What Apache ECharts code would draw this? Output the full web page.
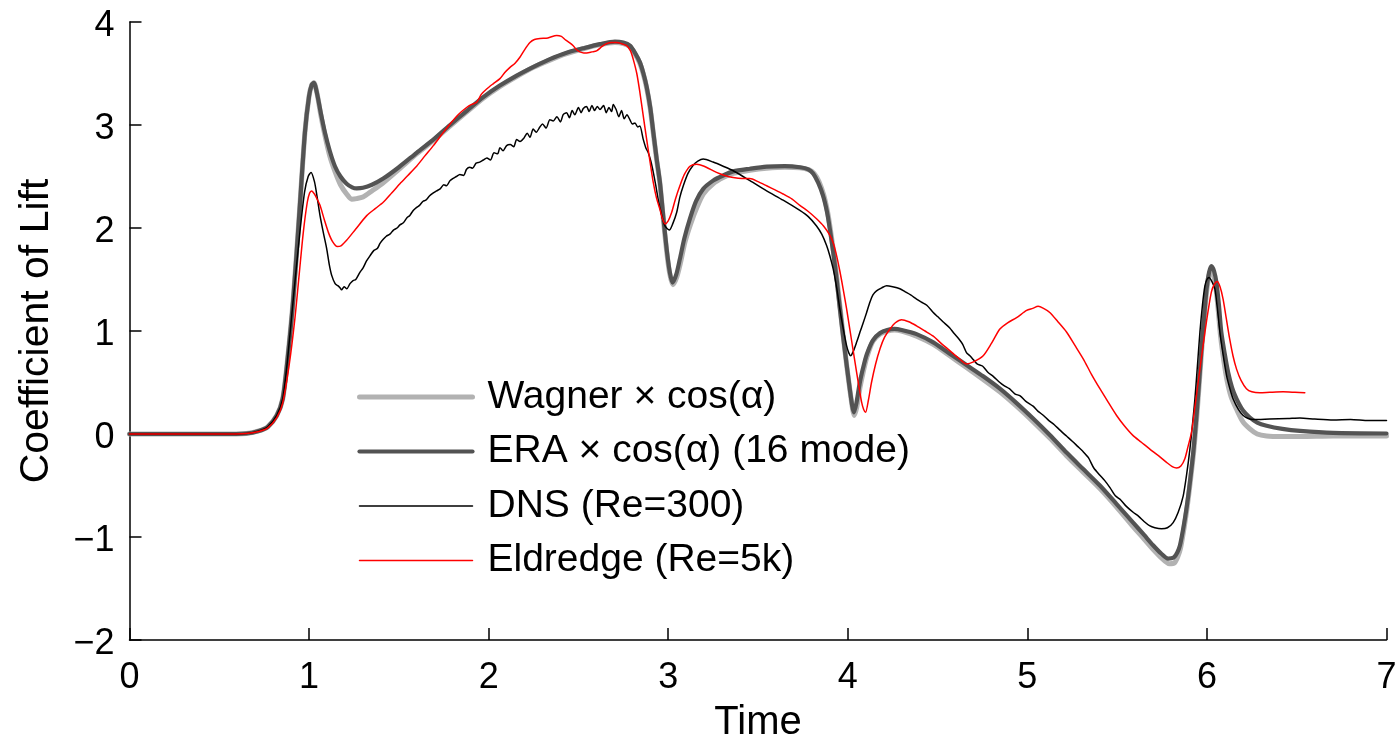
<!DOCTYPE html>
<html>
<head>
<meta charset="utf-8">
<title>Coefficient of Lift</title>
<script src="https://cdn.jsdelivr.net/npm/echarts@6/dist/echarts.min.js"></script>
<style>
  html, body { margin: 0; padding: 0; background: #fff; }
  #chart { width: 1395px; height: 739px; }
</style>
</head>
<body>
<div id="chart"></div>
<script>
// Lift coefficient histories for a pitching/plunging plate manoeuvre.

const seriesNames = [
  'Wagner \u00d7 cos(\u03b1)',
  'ERA \u00d7 cos(\u03b1) (16 mode)',
  'DNS (Re=300)',
  'Eldredge (Re=5k)'
];

const xTicks = [0, 1, 2, 3, 4, 5, 6, 7];
const yTicks = [-2, -1, 0, 1, 2, 3, 4];

// ERA reduced-order model (16 modes)
const eraTime = [0, 0.5, 0.65, 0.72, 0.77, 0.82, 0.853, 0.88, 0.912, 0.945, 0.977, 1.0, 1.015, 1.027, 1.045, 1.065, 1.088, 1.115, 1.144, 1.175, 1.209, 1.24, 1.265, 1.3, 1.35, 1.413, 1.5, 1.599, 1.7, 1.785, 1.88, 1.97, 2.06, 2.156, 2.25, 2.341, 2.43, 2.527, 2.62, 2.703, 2.75, 2.787, 2.815, 2.842, 2.862, 2.88, 2.9, 2.917, 2.935, 2.954, 2.972, 2.991, 3.008, 3.024, 3.045, 3.065, 3.09, 3.121, 3.155, 3.195, 3.25, 3.306, 3.362, 3.455, 3.548, 3.65, 3.733, 3.78, 3.807, 3.835, 3.863, 3.885, 3.9, 3.92, 3.938, 3.956, 3.974, 3.993, 4.011, 4.025, 4.034, 4.048, 4.067, 4.085, 4.105, 4.14, 4.18, 4.22, 4.26, 4.3, 4.383, 4.476, 4.568, 4.661, 4.754, 4.847, 4.94, 5.032, 5.125, 5.218, 5.311, 5.404, 5.497, 5.589, 5.65, 5.7, 5.745, 5.784, 5.815, 5.835, 5.85, 5.87, 5.888, 5.905, 5.925, 5.942, 5.957, 5.97, 5.985, 5.998, 6.012, 6.025, 6.04, 6.053, 6.067, 6.08, 6.1, 6.118, 6.14, 6.165, 6.2, 6.239, 6.28, 6.332, 6.42, 6.518, 6.703, 7.0];
const eraLift = [0, 0, 0.005, 0.03, 0.07, 0.18, 0.34, 0.72, 1.31, 2.12, 2.93, 3.28, 3.39, 3.41, 3.30, 3.12, 2.93, 2.75, 2.60, 2.50, 2.43, 2.395, 2.385, 2.39, 2.42, 2.48, 2.59, 2.73, 2.87, 3.00, 3.14, 3.27, 3.38, 3.48, 3.565, 3.64, 3.70, 3.745, 3.785, 3.81, 3.80, 3.77, 3.70, 3.61, 3.50, 3.37, 3.17, 2.93, 2.68, 2.44, 2.12, 1.80, 1.58, 1.47, 1.55, 1.70, 1.90, 2.09, 2.26, 2.38, 2.46, 2.51, 2.55, 2.575, 2.595, 2.60, 2.59, 2.57, 2.53, 2.44, 2.31, 2.15, 1.99, 1.75, 1.50, 1.22, 0.95, 0.68, 0.44, 0.27, 0.21, 0.30, 0.50, 0.64, 0.77, 0.91, 0.98, 1.01, 1.02, 1.01, 0.97, 0.89, 0.78, 0.67, 0.56, 0.44, 0.30, 0.15, -0.01, -0.18, -0.34, -0.50, -0.68, -0.86, -0.98, -1.08, -1.16, -1.21, -1.20, -1.15, -1.08, -0.90, -0.70, -0.47, -0.16, 0.18, 0.52, 0.83, 1.15, 1.41, 1.57, 1.63, 1.58, 1.47, 1.25, 0.99, 0.77, 0.60, 0.45, 0.34, 0.23, 0.16, 0.11, 0.08, 0.05, 0.03, 0.01, 0.005];

// Wagner function model
const wagnerTime = [0, 0.5, 0.65, 0.72, 0.77, 0.82, 0.853, 0.88, 0.912, 0.945, 0.977, 1.0, 1.015, 1.027, 1.045, 1.065, 1.088, 1.115, 1.144, 1.175, 1.209, 1.237, 1.265, 1.3, 1.35, 1.413, 1.5, 1.599, 1.7, 1.785, 1.88, 1.97, 2.06, 2.156, 2.25, 2.341, 2.43, 2.527, 2.62, 2.703, 2.75, 2.787, 2.815, 2.842, 2.862, 2.88, 2.9, 2.917, 2.935, 2.954, 2.972, 2.991, 3.008, 3.026, 3.047, 3.068, 3.093, 3.125, 3.16, 3.195, 3.25, 3.306, 3.362, 3.455, 3.548, 3.65, 3.733, 3.785, 3.812, 3.84, 3.866, 3.887, 3.902, 3.922, 3.94, 3.958, 3.976, 3.995, 4.013, 4.027, 4.036, 4.05, 4.069, 4.087, 4.107, 4.14, 4.18, 4.22, 4.26, 4.3, 4.383, 4.476, 4.568, 4.661, 4.754, 4.847, 4.94, 5.032, 5.125, 5.218, 5.311, 5.404, 5.497, 5.589, 5.65, 5.7, 5.745, 5.79, 5.82, 5.838, 5.853, 5.872, 5.89, 5.907, 5.927, 5.944, 5.958, 5.971, 5.985, 5.998, 6.012, 6.025, 6.038, 6.05, 6.063, 6.076, 6.095, 6.112, 6.135, 6.165, 6.2, 6.239, 6.28, 6.332, 6.42, 6.518, 6.703, 7.0];
const wagnerLift = [0, 0, 0.005, 0.03, 0.07, 0.18, 0.34, 0.72, 1.31, 2.12, 2.93, 3.28, 3.39, 3.41, 3.30, 3.10, 2.90, 2.70, 2.55, 2.42, 2.33, 2.28, 2.285, 2.30, 2.36, 2.44, 2.57, 2.72, 2.86, 2.99, 3.13, 3.26, 3.37, 3.47, 3.56, 3.63, 3.69, 3.74, 3.78, 3.80, 3.79, 3.76, 3.69, 3.60, 3.49, 3.36, 3.16, 2.92, 2.67, 2.43, 2.10, 1.78, 1.56, 1.45, 1.52, 1.66, 1.86, 2.04, 2.20, 2.33, 2.43, 2.49, 2.53, 2.56, 2.58, 2.59, 2.585, 2.565, 2.53, 2.45, 2.32, 2.16, 2.0, 1.75, 1.50, 1.21, 0.93, 0.65, 0.41, 0.24, 0.18, 0.26, 0.46, 0.61, 0.75, 0.90, 0.97, 1.00, 1.01, 1.0, 0.95, 0.87, 0.76, 0.645, 0.53, 0.41, 0.27, 0.12, -0.04, -0.21, -0.37, -0.53, -0.71, -0.90, -1.02, -1.12, -1.20, -1.26, -1.25, -1.19, -1.11, -0.92, -0.71, -0.47, -0.16, 0.18, 0.51, 0.82, 1.13, 1.38, 1.54, 1.60, 1.54, 1.42, 1.20, 0.95, 0.70, 0.52, 0.36, 0.24, 0.12, 0.05, 0.0, -0.02, -0.025, -0.025, -0.02, -0.02];

// Direct numerical simulation, Re = 300
const dnsTime = [0, 0.5, 0.65, 0.72, 0.77, 0.82, 0.853, 0.88, 0.912, 0.949, 0.975, 0.995, 1.011, 1.03, 1.045, 1.061, 1.08, 1.098, 1.112, 1.126, 1.145, 1.16, 1.172, 1.181, 1.195, 1.21, 1.228, 1.245, 1.26, 1.283, 1.3, 1.32, 1.339, 1.36, 1.38, 1.395, 1.413, 1.43, 1.45, 1.47, 1.49, 1.506, 1.525, 1.545, 1.56, 1.58, 1.599, 1.615, 1.635, 1.65, 1.67, 1.692, 1.71, 1.73, 1.75, 1.765, 1.785, 1.8, 1.82, 1.84, 1.86, 1.877, 1.895, 1.91, 1.93, 1.95, 1.97, 1.99, 2.01, 2.03, 2.05, 2.063, 2.08, 2.1, 2.12, 2.14, 2.156, 2.175, 2.195, 2.215, 2.23, 2.248, 2.265, 2.285, 2.3, 2.32, 2.341, 2.36, 2.38, 2.4, 2.415, 2.434, 2.45, 2.465, 2.48, 2.5, 2.515, 2.527, 2.545, 2.56, 2.575, 2.59, 2.605, 2.62, 2.64, 2.655, 2.67, 2.685, 2.694, 2.71, 2.725, 2.74, 2.755, 2.77, 2.787, 2.8, 2.815, 2.83, 2.842, 2.861, 2.875, 2.889, 2.903, 2.917, 2.93, 2.944, 2.963, 2.982, 3.006, 3.025, 3.047, 3.065, 3.084, 3.11, 3.139, 3.165, 3.195, 3.25, 3.306, 3.362, 3.455, 3.548, 3.64, 3.733, 3.78, 3.826, 3.855, 3.882, 3.9, 3.919, 3.938, 3.956, 3.975, 3.993, 4.005, 4.016, 4.03, 4.049, 4.068, 4.086, 4.105, 4.123, 4.14, 4.16, 4.19, 4.216, 4.25, 4.29, 4.32, 4.35, 4.383, 4.41, 4.44, 4.476, 4.5, 4.53, 4.568, 4.59, 4.62, 4.64, 4.661, 4.68, 4.7, 4.72, 4.75, 4.78, 4.81, 4.847, 4.87, 4.9, 4.93, 4.96, 4.99, 5.032, 5.06, 5.09, 5.12, 5.15, 5.18, 5.218, 5.25, 5.28, 5.31, 5.34, 5.37, 5.404, 5.43, 5.46, 5.49, 5.52, 5.55, 5.589, 5.62, 5.65, 5.68, 5.71, 5.747, 5.78, 5.812, 5.84, 5.868, 5.888, 5.905, 5.92, 5.933, 5.947, 5.961, 5.975, 5.989, 6.0, 6.012, 6.028, 6.044, 6.058, 6.072, 6.09, 6.109, 6.128, 6.146, 6.175, 6.202, 6.23, 6.257, 6.35, 6.45, 6.518, 6.6, 6.703, 6.8, 6.9, 7.0];
const dnsLift = [0, 0, 0.005, 0.03, 0.07, 0.18, 0.34, 0.72, 1.31, 1.96, 2.35, 2.50, 2.54, 2.45, 2.30, 2.12, 1.95, 1.80, 1.65, 1.54, 1.46, 1.44, 1.42, 1.40, 1.43, 1.41, 1.46, 1.49, 1.50, 1.57, 1.61, 1.68, 1.73, 1.78, 1.80, 1.85, 1.89, 1.92, 1.94, 1.98, 2.00, 2.03, 2.05, 2.10, 2.12, 2.17, 2.20, 2.22, 2.26, 2.27, 2.31, 2.34, 2.36, 2.38, 2.42, 2.41, 2.46, 2.48, 2.50, 2.52, 2.51, 2.57, 2.59, 2.58, 2.63, 2.64, 2.66, 2.68, 2.66, 2.73, 2.72, 2.78, 2.75, 2.80, 2.81, 2.79, 2.86, 2.84, 2.87, 2.92, 2.88, 2.96, 2.93, 2.98, 3.01, 2.97, 3.05, 3.04, 3.08, 3.03, 3.10, 3.12, 3.07, 3.14, 3.10, 3.17, 3.12, 3.16, 3.18, 3.13, 3.19, 3.14, 3.18, 3.15, 3.19, 3.12, 3.17, 3.13, 3.20, 3.15, 3.08, 3.14, 3.06, 3.10, 3.05, 3.01, 3.02, 2.98, 2.99, 2.86, 2.78, 2.73, 2.65, 2.54, 2.42, 2.28, 2.13, 2.02, 1.98, 2.04, 2.15, 2.30, 2.41, 2.53, 2.61, 2.65, 2.67, 2.64, 2.60, 2.556, 2.46, 2.36, 2.27, 2.17, 2.11, 2.02, 1.94, 1.83, 1.73, 1.60, 1.42, 1.21, 1.02, 0.86, 0.79, 0.76, 0.80, 0.89, 0.99, 1.08, 1.18, 1.28, 1.35, 1.39, 1.42, 1.44, 1.43, 1.41, 1.38, 1.35, 1.31, 1.28, 1.25, 1.18, 1.14, 1.09, 1.03, 0.98, 0.92, 0.87, 0.79, 0.76, 0.72, 0.68, 0.66, 0.60, 0.56, 0.50, 0.47, 0.44, 0.39, 0.37, 0.32, 0.27, 0.22, 0.18, 0.13, 0.09, 0.04, -0.02, -0.07, -0.12, -0.17, -0.23, -0.33, -0.40, -0.45, -0.52, -0.60, -0.64, -0.70, -0.76, -0.80, -0.85, -0.89, -0.91, -0.92, -0.91, -0.86, -0.76, -0.60, -0.38, -0.15, 0.10, 0.34, 0.66, 0.99, 1.25, 1.44, 1.50, 1.52, 1.48, 1.41, 1.22, 0.99, 0.77, 0.57, 0.44, 0.34, 0.24, 0.18, 0.15, 0.14, 0.145, 0.15, 0.155, 0.145, 0.136, 0.14, 0.13, 0.13];

// Eldredge experiment, Re = 5000
const eldTime = [0, 0.5, 0.65, 0.72, 0.77, 0.82, 0.853, 0.89, 0.921, 0.945, 0.968, 0.99, 1.003, 1.014, 1.03, 1.045, 1.061, 1.085, 1.107, 1.13, 1.157, 1.18, 1.209, 1.26, 1.321, 1.37, 1.413, 1.46, 1.506, 1.55, 1.599, 1.645, 1.692, 1.74, 1.785, 1.83, 1.877, 1.905, 1.933, 1.96, 1.989, 2.025, 2.063, 2.09, 2.119, 2.147, 2.175, 2.2, 2.23, 2.255, 2.286, 2.33, 2.379, 2.405, 2.425, 2.45, 2.471, 2.49, 2.508, 2.53, 2.546, 2.575, 2.601, 2.63, 2.657, 2.685, 2.713, 2.74, 2.768, 2.79, 2.805, 2.825, 2.842, 2.86, 2.88, 2.9, 2.917, 2.935, 2.954, 2.968, 2.982, 3.0, 3.019, 3.04, 3.065, 3.09, 3.121, 3.158, 3.2, 3.269, 3.315, 3.362, 3.41, 3.455, 3.5, 3.548, 3.595, 3.64, 3.69, 3.733, 3.78, 3.826, 3.865, 3.9, 3.92, 3.938, 3.956, 3.974, 3.993, 4.011, 4.03, 4.049, 4.063, 4.077, 4.088, 4.099, 4.115, 4.132, 4.155, 4.18, 4.205, 4.235, 4.265, 4.3, 4.34, 4.383, 4.43, 4.476, 4.52, 4.568, 4.615, 4.661, 4.7, 4.754, 4.8, 4.847, 4.89, 4.94, 4.996, 5.03, 5.06, 5.09, 5.125, 5.17, 5.218, 5.265, 5.311, 5.357, 5.404, 5.45, 5.497, 5.54, 5.589, 5.635, 5.682, 5.73, 5.775, 5.81, 5.831, 5.855, 5.877, 5.895, 5.914, 5.933, 5.951, 5.97, 5.989, 6.007, 6.025, 6.04, 6.057, 6.073, 6.09, 6.108, 6.127, 6.145, 6.165, 6.19, 6.22, 6.25, 6.295, 6.35, 6.424, 6.49, 6.545];
const eldLift = [0, 0, 0.005, 0.025, 0.06, 0.16, 0.30, 0.68, 1.12, 1.55, 1.96, 2.25, 2.34, 2.36, 2.33, 2.28, 2.22, 2.08, 1.96, 1.87, 1.82, 1.83, 1.88, 1.99, 2.12, 2.19, 2.25, 2.34, 2.43, 2.51, 2.60, 2.70, 2.80, 2.91, 3.01, 3.10, 3.17, 3.20, 3.22, 3.30, 3.35, 3.40, 3.45, 3.51, 3.56, 3.60, 3.66, 3.73, 3.80, 3.83, 3.84, 3.845, 3.87, 3.86, 3.83, 3.80, 3.77, 3.73, 3.71, 3.70, 3.70, 3.71, 3.72, 3.76, 3.79, 3.80, 3.80, 3.79, 3.77, 3.72, 3.64, 3.50, 3.32, 3.10, 2.86, 2.63, 2.44, 2.29, 2.18, 2.09, 2.04, 2.07, 2.15, 2.28, 2.41, 2.52, 2.60, 2.62, 2.60, 2.54, 2.51, 2.49, 2.48, 2.48, 2.45, 2.41, 2.37, 2.33, 2.28, 2.22, 2.16, 2.09, 2.02, 1.93, 1.85, 1.73, 1.58, 1.41, 1.22, 1.02, 0.81, 0.60, 0.45, 0.31, 0.24, 0.21, 0.33, 0.50, 0.68, 0.83, 0.94, 1.02, 1.08, 1.11, 1.09, 1.05, 1.00, 0.95, 0.88, 0.81, 0.74, 0.68, 0.70, 0.76, 0.88, 1.02, 1.08, 1.13, 1.20, 1.22, 1.24, 1.22, 1.18, 1.09, 0.99, 0.86, 0.73, 0.58, 0.44, 0.31, 0.18, 0.08, -0.016, -0.08, -0.146, -0.21, -0.275, -0.32, -0.33, -0.31, -0.24, -0.12, 0.016, 0.26, 0.50, 0.75, 0.99, 1.20, 1.38, 1.45, 1.48, 1.43, 1.31, 1.12, 0.92, 0.76, 0.63, 0.52, 0.44, 0.41, 0.40, 0.405, 0.41, 0.405, 0.40];

const zip = (ts, vs) => ts.map((t, i) => [t, vs[i]]);
const minusFmt = v => (v < 0 ? '\u2212' + Math.abs(v) : String(v));

const FONT = 'Liberation Sans, Arial, Helvetica, sans-serif';
const styles = [
  { color: '#b2b2b2', width: 5 },
  { color: '#535353', width: 4.2 },
  { color: '#000000', width: 1.5 },
  { color: '#ff0000', width: 1.5 }
];
const dataSets = [
  zip(wagnerTime, wagnerLift),
  zip(eraTime, eraLift),
  zip(dnsTime, dnsLift),
  zip(eldTime, eldLift)
];

const chart = echarts.init(document.getElementById('chart'), null, { renderer: 'canvas' });

chart.setOption({
  animation: false,
  backgroundColor: '#ffffff',
  grid: {
    left: 129.5, right: 8.5, top: 22, bottom: 99,
    containLabel: false,
    outerBoundsMode: 'none'
  },
  xAxis: {
    type: 'value',
    min: xTicks[0],
    max: xTicks[xTicks.length - 1],
    interval: 1,
    name: 'Time',
    nameLocation: 'middle',
    nameGap: 63,
    nameTextStyle: { fontFamily: FONT, fontSize: 40, color: '#000' },
    axisLine: { show: true, onZero: false, lineStyle: { color: '#000', width: 1.5 } },
    axisTick: { show: true, inside: true, length: 12, lineStyle: { color: '#000', width: 1.5 } },
    axisLabel: { fontFamily: FONT, fontSize: 36, color: '#000', margin: 20, formatter: minusFmt },
    splitLine: { show: false }
  },
  yAxis: {
    type: 'value',
    min: yTicks[0],
    max: yTicks[yTicks.length - 1],
    interval: 1,
    name: 'Coefficient of Lift',
    nameLocation: 'middle',
    nameGap: 72,
    nameRotate: 90,
    nameTextStyle: { fontFamily: FONT, fontSize: 41, color: '#000' },
    axisLine: { show: true, onZero: false, lineStyle: { color: '#000', width: 1.5 } },
    axisTick: { show: true, inside: true, length: 12, lineStyle: { color: '#000', width: 1.5 } },
    axisLabel: {
      fontFamily: FONT, fontSize: 36, color: '#000', margin: 15,
      verticalAlign: 'top', lineHeight: 8,
      formatter: minusFmt
    },
    splitLine: { show: false }
  },
  legend: {
    show: true,
    orient: 'vertical',
    left: 357,
    top: 377.5,
    padding: 0,
    itemWidth: 113,
    itemHeight: 34,
    itemGap: 15.5,
    selectedMode: false,
    textStyle: { fontFamily: FONT, fontSize: 39, color: '#000', padding: [0, 0, 0, 10] },
    data: seriesNames.map((name, i) => ({
      name: name,
      itemStyle: { opacity: 0 },
      lineStyle: { color: styles[i].color, width: styles[i].width }
    }))
  },
  series: seriesNames.map((name, i) => ({
    name: name,
    type: 'line',
    data: dataSets[i],
    symbol: 'none',
    showSymbol: false,
    smooth: 0.25,
    clip: true,
    z: 2 + i,
    lineStyle: { color: styles[i].color, width: styles[i].width, cap: 'round', join: 'round' },
    itemStyle: { color: styles[i].color }
  }))
});
</script>
</body>
</html>
